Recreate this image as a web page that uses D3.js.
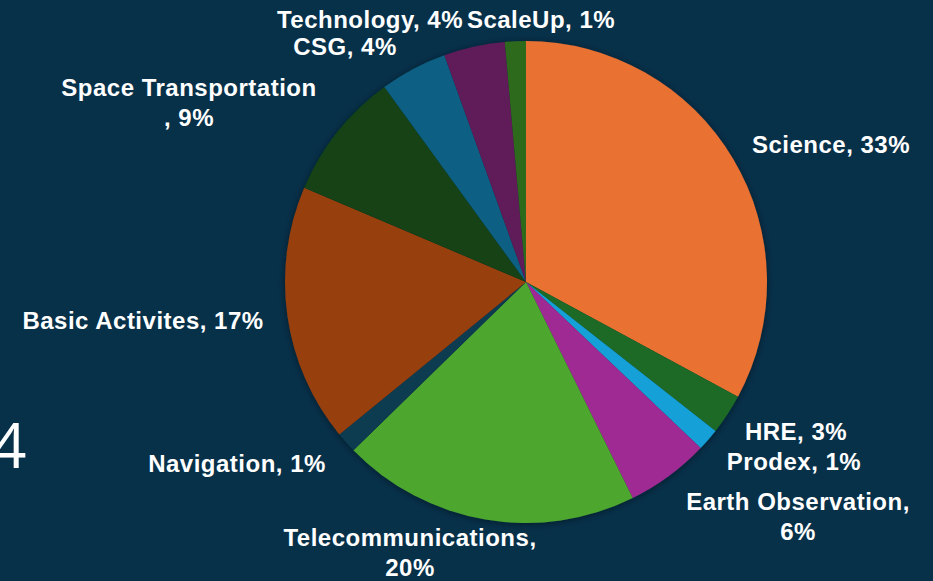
<!DOCTYPE html>
<html>
<head>
<meta charset="utf-8">
<script src="https://cdn.jsdelivr.net/npm/d3@7"></script>
<style>
  html, body { margin: 0; padding: 0; background: #073049; }
  svg { display: block; }
  .lbl { font-family: "Liberation Sans", Arial, sans-serif; font-weight: bold; fill: #fff; font-size: 24px; letter-spacing: 0.5px; }
</style>
</head>
<body>
<div class="canvas"></div>
<script>
// programme shares
const categories = ['Science', 'HRE', 'Prodex', 'Earth Observation', 'Telecommunications',
    'Navigation', 'Basic Activites', 'Space Transportation', 'CSG', 'Technology', 'ScaleUp'];
const values = [32.9, 2.7, 1.5, 5.6, 20.0, 1.4, 17.3, 8.6, 4.5, 4.1, 1.4];
const pctLabels = ['33%', '3%', '1%', '6%', '20%', '1%', '17%', '9%', '4%', '4%', '1%'];
const colours = ['#e97132', '#1d6b26', '#17a0d8', '#a02b93', '#4ea72e',
    '#0f3a50', '#973f0f', '#124217', '#0d6083', '#601b58', '#2d6a1e'];

const dims = {width: 933, height: 581, radius: 241};
const center = {x: 526, y: 282};

// label placement (layout only), lines split as in the slide
const labelLayout = {
    'Science':              {x: 831, y: 153},
    'HRE':                  {x: 796, y: 440},
    'Prodex':               {x: 794, y: 470},
    'Earth Observation':    {x: 798, y: 510, split: true},
    'Telecommunications':   {x: 410, y: 546, split: true},
    'Navigation':           {x: 237, y: 472},
    'Basic Activites':      {x: 143, y: 329},
    'Space Transportation': {x: 189, y: 96, split: 'pre'},
    'CSG':                  {x: 345, y: 55},
    'Technology':           {x: 370, y: 28},
    'ScaleUp':              {x: 541, y: 28}
};

const data = categories.map((name, i) => ({name, value: values[i], pct: pctLabels[i]}));

const svg = d3.select('.canvas')
    .append('svg')
    .attr('width', dims.width)
    .attr('height', dims.height);

const defs = svg.append('defs');
const shadow = defs.append('filter')
    .attr('id', 'shadow')
    .attr('x', '-10%').attr('y', '-10%')
    .attr('width', '120%').attr('height', '120%');
shadow.append('feDropShadow')
    .attr('dx', 0).attr('dy', 1)
    .attr('stdDeviation', 3)
    .attr('flood-color', '#000')
    .attr('flood-opacity', 0.45);

const graph = svg.append('g')
    .attr('transform', `translate(${center.x}, ${center.y})`)
    .attr('filter', 'url(#shadow)');

const pie = d3.pie()
    .sort(null)
    .value(d => d.value);

const arcPath = d3.arc()
    .outerRadius(dims.radius)
    .innerRadius(0);

const color = d3.scaleOrdinal()
    .domain(categories)
    .range(colours);

graph.selectAll('path')
    .data(pie(data))
    .enter()
    .append('path')
        .attr('d', arcPath)
        .attr('fill', d => color(d.data.name));

// labels
const labels = svg.append('g');
data.forEach(d => {
    const lay = labelLayout[d.name];
    let lines;
    if (lay.split === true) lines = [`${d.name},`, d.pct];
    else if (lay.split === 'pre') lines = [d.name, `, ${d.pct}`];
    else lines = [`${d.name}, ${d.pct}`];

    const t = labels.append('text')
        .attr('class', 'lbl')
        .attr('text-anchor', 'middle')
        .attr('x', lay.x)
        .attr('y', lay.y);
    lines.forEach((line, i) => {
        t.append('tspan')
            .attr('x', lay.x)
            .attr('dy', i === 0 ? 0 : 30)
            .text(line);
    });
});

// stray slide number at the left edge (cut off in the original too)
svg.append('text')
    .attr('x', -9)
    .attr('y', 468)
    .attr('fill', '#fff')
    .style('font-family', '"Open Sans", "Noto Sans", sans-serif')
    .style('font-weight', 400)
    .style('font-size', '62px')
    .text('4');
</script>
</body>
</html>
